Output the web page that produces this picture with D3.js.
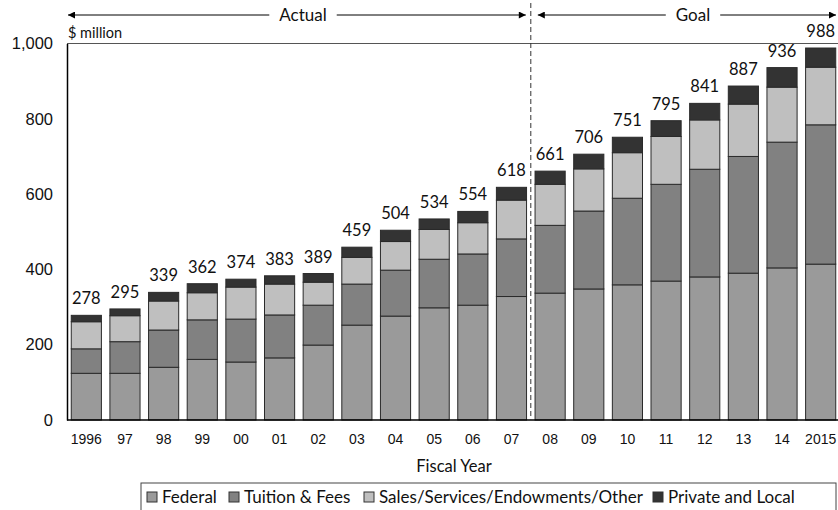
<!DOCTYPE html>
<html>
<head>
<meta charset="utf-8">
<script src="https://cdn.jsdelivr.net/npm/d3@7"></script>
<style>
  body { margin: 0; background: #fff; }
  svg { display: block; font-family: Lato, "Open Sans", sans-serif; }
</style>
</head>
<body>
<svg id="chart" width="838" height="510"></svg>
<script>
// Fiscal years shown on the x axis
const years = ["1996", "97", "98", "99", "00", "01", "02", "03", "04", "05",
  "06", "07", "08", "09", "10", "11", "12", "13", "14", "2015"];

// $ million
const federal = [124, 124, 140, 161, 154, 165, 199, 252, 276, 298, 305, 328, 337, 348, 359, 369, 380, 390, 404, 414];
const tuition = [65, 84, 99, 105, 114, 114, 106, 109, 122, 129, 136, 153, 180, 207, 230, 257, 286, 310, 334, 370];
const sales = [72, 69, 77, 72, 85, 82, 61, 71, 76, 79, 83, 103, 109, 112, 121, 127, 131, 139, 146, 153];
const privateLocal = [17, 18, 23, 24, 21, 22, 23, 27, 30, 28, 30, 34, 35, 39, 41, 42, 44, 48, 52, 51];
const totals = [278, 295, 339, 362, 374, 383, 389, 459, 504, 534, 554, 618, 661, 706, 751, 795, 841, 887, 936, 988];

const yTicks = [0, 200, 400, 600, 800, 1000];
const seriesNames = ["Federal", "Tuition & Fees", "Sales/Services/Endowments/Other", "Private and Local"];
const seriesColors = ["#9a9a9a", "#818181", "#bfbfbf", "#333333"];
const lastActual = "07";

const svg = d3.select("#chart");
const margin = { top: 43.5, right: 0, bottom: 90, left: 67 };
const width = +svg.attr("width");
const height = +svg.attr("height");

const x = d3.scaleBand()
  .domain(years)
  .range([margin.left, width + 2])
  .paddingInner(0.22)
  .paddingOuter(0.11);

const y = d3.scaleLinear()
  .domain([0, 1000])
  .range([height - margin.bottom, margin.top]);

// prep data for the stack
const rows = years.map((yr, i) => ({
  year: yr,
  federal: federal[i],
  tuition: tuition[i],
  sales: sales[i],
  privateLocal: privateLocal[i],
  total: totals[i]
}));
const keys = ["federal", "tuition", "sales", "privateLocal"];
const stacked = d3.stack().keys(keys)(rows);

// frame: top rule
svg.append("line")
  .attr("x1", margin.left).attr("x2", width)
  .attr("y1", y(1000)).attr("y2", y(1000))
  .attr("stroke", "#555").attr("stroke-width", 1.2);

// y axis
svg.append("g")
  .attr("transform", `translate(${margin.left},0)`)
  .call(d3.axisLeft(y).tickValues(yTicks).tickSize(0).tickPadding(14).tickFormat(d3.format(",")))
  .call(g => g.select(".domain").attr("stroke", "#000").attr("stroke-width", 1.5))
  .call(g => g.selectAll(".tick text").attr("font-size", 16.5).attr("fill", "#111").attr("font-family", null));

svg.append("text")
  .attr("x", margin.left + 1)
  .attr("y", 38)
  .attr("font-size", 14.5)
  .attr("fill", "#111")
  .text("$ million");

// bars
svg.append("g")
  .selectAll("g")
  .data(stacked)
  .join("g")
  .attr("fill", (d, i) => seriesColors[i])
  .selectAll("rect")
  .data(d => d)
  .join("rect")
  .attr("x", d => x(d.data.year))
  .attr("y", d => y(d[1]))
  .attr("width", x.bandwidth())
  .attr("height", d => y(d[0]) - y(d[1]))
  .attr("stroke", "#2a2a2a")
  .attr("stroke-width", 1);

// totals above bars
svg.append("g")
  .selectAll("text")
  .data(rows)
  .join("text")
  .attr("x", d => x(d.year) + x.bandwidth() / 2)
  .attr("y", d => y(d.total) - 11)
  .attr("text-anchor", "middle")
  .attr("font-size", 16.5)
  .attr("fill", "#111")
  .text(d => d.total);

// x axis
svg.append("g")
  .attr("transform", `translate(0,${y(0)})`)
  .call(d3.axisBottom(x).tickSize(0).tickPadding(14))
  .call(g => g.select(".domain").attr("d", `M${margin.left},0H${width}`).attr("stroke", "#000").attr("stroke-width", 1.5))
  .call(g => g.selectAll(".tick text").attr("font-size", 14).attr("fill", "#111").attr("font-family", null));

svg.append("text")
  .attr("x", 454)
  .attr("y", 472)
  .attr("text-anchor", "middle")
  .attr("font-size", 16.5)
  .attr("fill", "#111")
  .text("Fiscal Year");

// actual / goal divider
const divX = x(lastActual) + x.bandwidth() + x.step() * 0.22 / 2;
svg.append("line")
  .attr("x1", divX).attr("x2", divX)
  .attr("y1", 3).attr("y2", y(0))
  .attr("stroke", "#333")
  .attr("stroke-dasharray", "5,3");

svg.append("defs").append("marker")
  .attr("id", "head")
  .attr("viewBox", "0 0 10 10")
  .attr("refX", 10).attr("refY", 5)
  .attr("markerWidth", 13).attr("markerHeight", 7)
  .attr("markerUnits", "userSpaceOnUse")
  .attr("orient", "auto-start-reverse")
  .append("path")
  .attr("d", "M0,0L10,5L0,10z")
  .attr("fill", "#000");

const arrowY = 15;
const periods = [
  { label: "Actual", x0: margin.left + 1, x1: divX - 5, mid: 303 },
  { label: "Goal", x0: divX + 7, x1: width - 2, mid: 693 }
];

periods.forEach(p => {
  const t = svg.append("text")
    .attr("x", p.mid)
    .attr("y", arrowY + 6)
    .attr("text-anchor", "middle")
    .attr("font-size", 17)
    .attr("fill", "#111")
    .text(p.label);
  const w = t.node().getComputedTextLength();
  svg.append("line")
    .attr("x1", p.mid - w / 2 - 10).attr("x2", p.x0)
    .attr("y1", arrowY).attr("y2", arrowY)
    .attr("stroke", "#000").attr("marker-end", "url(#head)");
  svg.append("line")
    .attr("x1", p.mid + w / 2 + 10).attr("x2", p.x1)
    .attr("y1", arrowY).attr("y2", arrowY)
    .attr("stroke", "#000").attr("marker-end", "url(#head)");
});

// legend - swatch positions follow the original layout
const legendX = [147, 229, 364, 653];
const legend = svg.append("g");
legend.append("rect")
  .attr("x", 141).attr("y", 483)
  .attr("width", 695).attr("height", 30)
  .attr("fill", "#fff")
  .attr("stroke", "#444");

seriesNames.forEach((name, i) => {
  legend.append("rect")
    .attr("x", legendX[i]).attr("y", 492)
    .attr("width", 10).attr("height", 10)
    .attr("fill", seriesColors[i])
    .attr("stroke", "#333");
  legend.append("text")
    .attr("x", legendX[i] + 15)
    .attr("y", 503)
    .attr("font-size", 17)
    .attr("fill", "#111")
    .text(name);
});
</script>
</body>
</html>
